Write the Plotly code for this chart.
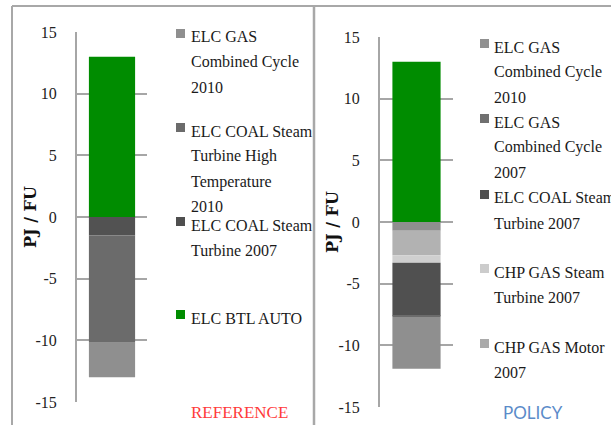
import plotly.graph_objects as go

# REFERENCE panel, traces in stacking order (first negative sits next to zero)
ref_series = ["ELC BTL AUTO", "ELC COAL Steam Turbine 2007",
              "ELC COAL Steam Turbine High Temperature 2010", "ELC GAS Combined Cycle 2010"]
ref_values = [13.0, -1.5, -8.7, -2.8]
ref_colors = ["#008c00", "#525252", "#6b6b6b", "#8f8f8f"]

# POLICY panel
pol_series = ["ELC BTL AUTO", "Other", "CHP GAS Motor 2007", "CHP GAS Steam Turbine 2007",
              "ELC COAL Steam Turbine 2007", "ELC GAS Combined Cycle 2007", "ELC GAS Combined Cycle 2010"]
pol_values = [13.0, -0.7, -2.0, -0.6, -4.3, -0.1, -4.2]
pol_colors = ["#008c00", "#8f8f8f", "#b2b2b2", "#cfcfcf", "#505050", "#6b6b6b", "#8f8f8f"]

# legend entries as they appear, top to bottom (wrapped text)
ref_legend = ["ELC GAS<br>Combined Cycle<br>2010",
              "ELC COAL Steam<br>Turbine High<br>Temperature<br>2010",
              "ELC COAL Steam<br>Turbine 2007",
              "ELC BTL AUTO"]
ref_legend_colors = ["#8f8f8f", "#6b6b6b", "#4f4f4f", "#008c00"]
pol_legend = ["ELC GAS<br>Combined Cycle<br>2010",
              "ELC GAS<br>Combined Cycle<br>2007",
              "ELC COAL Steam<br>Turbine 2007",
              "CHP GAS Steam<br>Turbine 2007",
              "CHP GAS Motor<br>2007"]
pol_legend_colors = ["#909090", "#707070", "#505050", "#cccccc", "#aaaaaa"]

y_ticks = [-15, -10, -5, 0, 5, 10, 15]
y_ticktext = ["-15", "-10", "-5", "0", "5", "10", "15"]

W, H = 611, 425
SERIF = "Liberation Serif"


def px_x(p):
    return p / W


def px_y(p):
    return 1 - p / H


fig = go.Figure()

for name, val, col in zip(ref_series, ref_values, ref_colors):
    fig.add_trace(go.Bar(x=[0], y=[val], name=name, marker=dict(color=col, line_width=0),
                         width=0.66, xaxis="x", yaxis="y", showlegend=False))
for name, val, col in zip(pol_series, pol_values, pol_colors):
    fig.add_trace(go.Bar(x=[0], y=[val], name=name, marker=dict(color=col, line_width=0),
                         width=0.66, xaxis="x2", yaxis="y2", showlegend=False))

xcommon = dict(range=[-0.5, 0.5], showticklabels=False, showgrid=False,
               zeroline=False, showline=False, fixedrange=True)
ycommon = dict(range=[-15, 15], tickvals=y_ticks, ticktext=y_ticktext, showgrid=True,
               gridcolor="#a6a6a6", gridwidth=1.5, zeroline=False, showline=True,
               linecolor="#a6a6a6", linewidth=2, ticks="", ticklabelstandoff=15,
               tickfont=dict(family=SERIF, size=16, color="#222222"))

fig.update_layout(
    width=W, height=H, margin=dict(l=0, r=0, t=0, b=0, autoexpand=False),
    paper_bgcolor="white", plot_bgcolor="white", barmode="relative",
    xaxis=dict(domain=[px_x(77), px_x(147)], anchor="y", **xcommon),
    yaxis=dict(domain=[px_y(402), px_y(32)], anchor="x", **ycommon),
    xaxis2=dict(domain=[px_x(380), px_x(453)], anchor="y2", **xcommon),
    yaxis2=dict(domain=[px_y(407), px_y(37)], anchor="x2", **ycommon),
)

annotations = []
shapes = []

# axis titles
for cx, cy in [(30, 217), (332, 222)]:
    annotations.append(dict(text="<b>PJ / FU</b>", x=px_x(cx), y=px_y(cy), xref="paper",
                            yref="paper", xanchor="center", yanchor="middle",
                            textangle=-90, showarrow=False,
                            font=dict(family="DejaVu Serif", size=16, color="#111111")))

# legends
LINE = 25.3
for labels, colors, tops, sq_x, tx in [
        (ref_legend, ref_legend_colors, [37, 131, 225, 318], 176, 189),
        (pol_legend, pol_legend_colors, [47, 122, 198, 272, 347], 480, 492)]:
    for label, col, top in zip(labels, colors, tops):
        for i, line in enumerate(label.split("<br>")):
            annotations.append(dict(text=line, x=px_x(tx), y=px_y(top + i * LINE),
                                    xref="paper", yref="paper", xanchor="left",
                                    yanchor="middle", showarrow=False,
                                    font=dict(family=SERIF, size=16, color="#1a1a1a")))
        shapes.append(dict(type="rect", xref="paper", yref="paper",
                           x0=px_x(sq_x), x1=px_x(sq_x + 9),
                           y0=px_y(top - 8), y1=px_y(top + 1),
                           fillcolor=col, line_width=0))

# panel labels
annotations.append(dict(text="REFERENCE", x=px_x(240), y=px_y(412), xref="paper", yref="paper",
                        xanchor="center", yanchor="middle", showarrow=False,
                        font=dict(family=SERIF, size=17, color="#ff3b3b")))
annotations.append(dict(text="POLICY", x=px_x(533), y=px_y(412), xref="paper", yref="paper",
                        xanchor="center", yanchor="middle", showarrow=False,
                        font=dict(family="Lato", size=17, color="#5b8bc9")))

# outer frame and panel divider
frame = dict(type="line", xref="paper", yref="paper", line=dict(color="#a8a8a8", width=2))
shapes.append(dict(frame, x0=px_x(12), x1=px_x(12), y0=px_y(6), y1=0))
shapes.append(dict(frame, x0=px_x(12), x1=1, y0=px_y(6), y1=px_y(6)))
shapes.append(dict(frame, x0=px_x(314), x1=px_x(314), y0=px_y(6), y1=0,
                   line=dict(color="#a8a8a8", width=2.5)))

fig.update_layout(annotations=annotations, shapes=shapes)

fig.write_html("out.html", config={"displayModeBar": False},
               post_script="document.documentElement.style.overflow='hidden';"
                           "document.body.style.margin='0';document.body.style.overflow='hidden';")
